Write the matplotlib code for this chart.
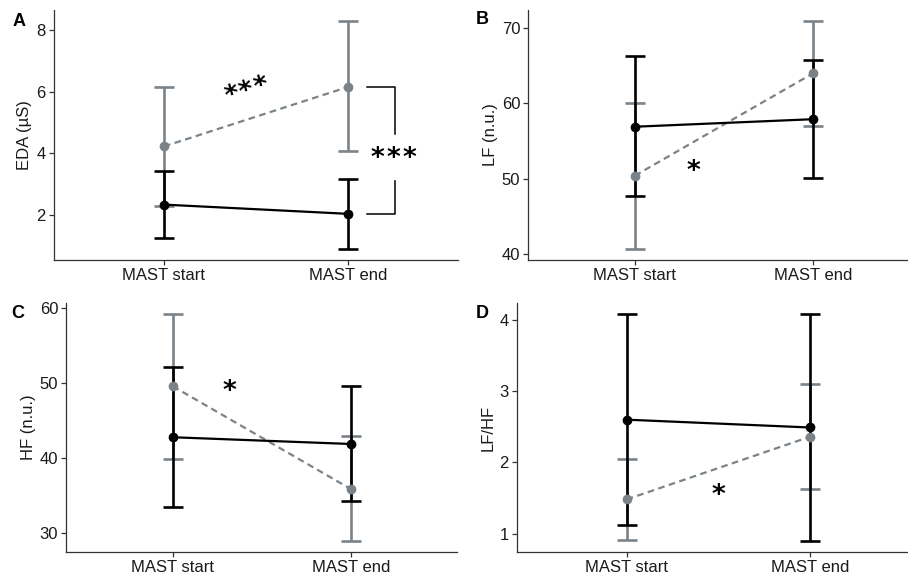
import numpy as np
import matplotlib
matplotlib.use('Agg')
import matplotlib.pyplot as plt
import matplotlib.transforms as mtransforms

plt.rcParams['font.family'] = ['Liberation Sans', 'DejaVu Sans']

times = ['MAST start', 'MAST end']
x = np.array([1, 2])

# group drawn in grey (dashed) and black (solid): mean, lower, upper
eda_grey = [4.22, 6.15]
eda_grey_lo = [2.29, 4.06]
eda_grey_hi = [6.15, 8.28]
eda_black = [2.33, 2.03]
eda_black_lo = [1.26, 0.90]
eda_black_hi = [3.41, 3.15]

lf_grey = [50.4, 64.0]
lf_grey_lo = [40.7, 57.0]
lf_grey_hi = [60.1, 70.9]
lf_black = [56.9, 57.9]
lf_black_lo = [47.7, 50.1]
lf_black_hi = [66.3, 65.7]

hf_grey = [49.6, 35.9]
hf_grey_lo = [39.9, 29.0]
hf_grey_hi = [59.2, 42.9]
hf_black = [42.8, 41.9]
hf_black_lo = [33.5, 34.3]
hf_black_hi = [52.2, 49.7]

lfhf_grey = [1.48, 2.36]
lfhf_grey_lo = [0.91, 1.62]
lfhf_grey_hi = [2.05, 3.10]
lfhf_black = [2.60, 2.49]
lfhf_black_lo = [1.12, 0.90]
lfhf_black_hi = [4.08, 4.08]

GREY = '#7b8389'
BLACK = '#000000'
W, H = 908, 579
STAR = dict(family='DejaVu Sans', fontsize=19, fontweight='bold', ha='center', va='center')

fig = plt.figure(figsize=(W / 100, H / 100), dpi=100)


def make_ax(left, right, top, bottom):
    return fig.add_axes([left / W, 1 - bottom / H, (right - left) / W, (bottom - top) / H])


def panel(ax, grey, glo, ghi, black, blo, bhi, ylabel, yticks, letter, lx, ly):
    for m, lo, hi, c, ls in [(grey, glo, ghi, GREY, (0, (3, 2))), (black, blo, bhi, BLACK, '-')]:
        m = np.array(m); lo = np.array(lo); hi = np.array(hi)
        ax.errorbar(x, m, yerr=[m - lo, hi - m], fmt='none', ecolor=c,
                    elinewidth=1.9, capsize=7, capthick=1.9, zorder=2)
        ax.plot(x, m, color=c, lw=1.6, ls=ls, zorder=3)
        ax.plot(x, m, 'o', color=c, ms=6, zorder=4)
    allv = np.concatenate([glo, ghi, blo, bhi])
    rng = allv.max() - allv.min()
    ax.set_ylim(allv.min() - 0.05 * rng, allv.max() + 0.05 * rng)
    ax.set_xlim(0.4, 2.6)
    ax.set_xticks(x)
    ax.set_xticklabels(times, fontsize=11)
    ax.set_yticks(yticks)
    ax.set_ylabel(ylabel, fontsize=12, color='#1a1a1a', labelpad=3)
    for s in ['top', 'right']:
        ax.spines[s].set_visible(False)
    for s in ['left', 'bottom']:
        ax.spines[s].set_color('#333333')
        ax.spines[s].set_linewidth(0.9)
    ax.tick_params(length=3.6, width=0.9, color='#333333', labelsize=12,
                   labelcolor='#1a1a1a', pad=2)
    fig.text(lx / W, 1 - ly / H, letter, fontsize=13, fontweight='bold',
             ha='center', va='center')


def stars(ax, xd, yd, n, angle=0, gap=15):
    # place n asterisks spaced gap pixels apart along the given angle
    a = np.deg2rad(angle)
    for i in range(n):
        off = (i - (n - 1) / 2) * gap
        tr = mtransforms.offset_copy(ax.transData, fig=fig, x=off * np.cos(a),
                                     y=off * np.sin(a), units='dots')
        ax.text(xd, yd, '*', transform=tr, rotation=angle, **STAR)


axA = make_ax(53.6, 458.4, 10, 260)
panel(axA, eda_grey, eda_grey_lo, eda_grey_hi, eda_black, eda_black_lo, eda_black_hi,
      'EDA (µS)', [2, 4, 6, 8], 'A', 19, 22)
axB = make_ax(528, 920, 10, 260)
panel(axB, lf_grey, lf_grey_lo, lf_grey_hi, lf_black, lf_black_lo, lf_black_hi,
      'LF (n.u.)', [40, 50, 60, 70], 'B', 482, 20)
axC = make_ax(66, 457.5, 303, 552)
panel(axC, hf_grey, hf_grey_lo, hf_grey_hi, hf_black, hf_black_lo, hf_black_hi,
      'HF (n.u.)', [30, 40, 50, 60], 'C', 18, 313)
axD = make_ax(516.7, 920, 303, 552)
panel(axD, lfhf_grey, lfhf_grey_lo, lfhf_grey_hi, lfhf_black, lfhf_black_lo, lfhf_black_hi,
      'LF/HF', [1, 2, 3, 4], 'D', 482, 313)

# significance annotations
bx0, bx1 = 2.103, 2.255
axA.plot([bx0, bx1, bx1], [eda_grey[1], eda_grey[1], 4.61], color=BLACK, lw=1.1, clip_on=False)
axA.plot([bx0, bx1, bx1], [eda_black[1], eda_black[1], 3.11], color=BLACK, lw=1.1, clip_on=False)
stars(axA, 2.245, 3.8, 3, gap=16)
stars(axA, 1.45, 6.0, 3, angle=16, gap=15)
stars(axB, 1.326, 50.9, 1)
stars(axC, 1.32, 48.9, 1)
stars(axD, 1.50, 1.53, 1)

fig.savefig('out.png', dpi=100)
